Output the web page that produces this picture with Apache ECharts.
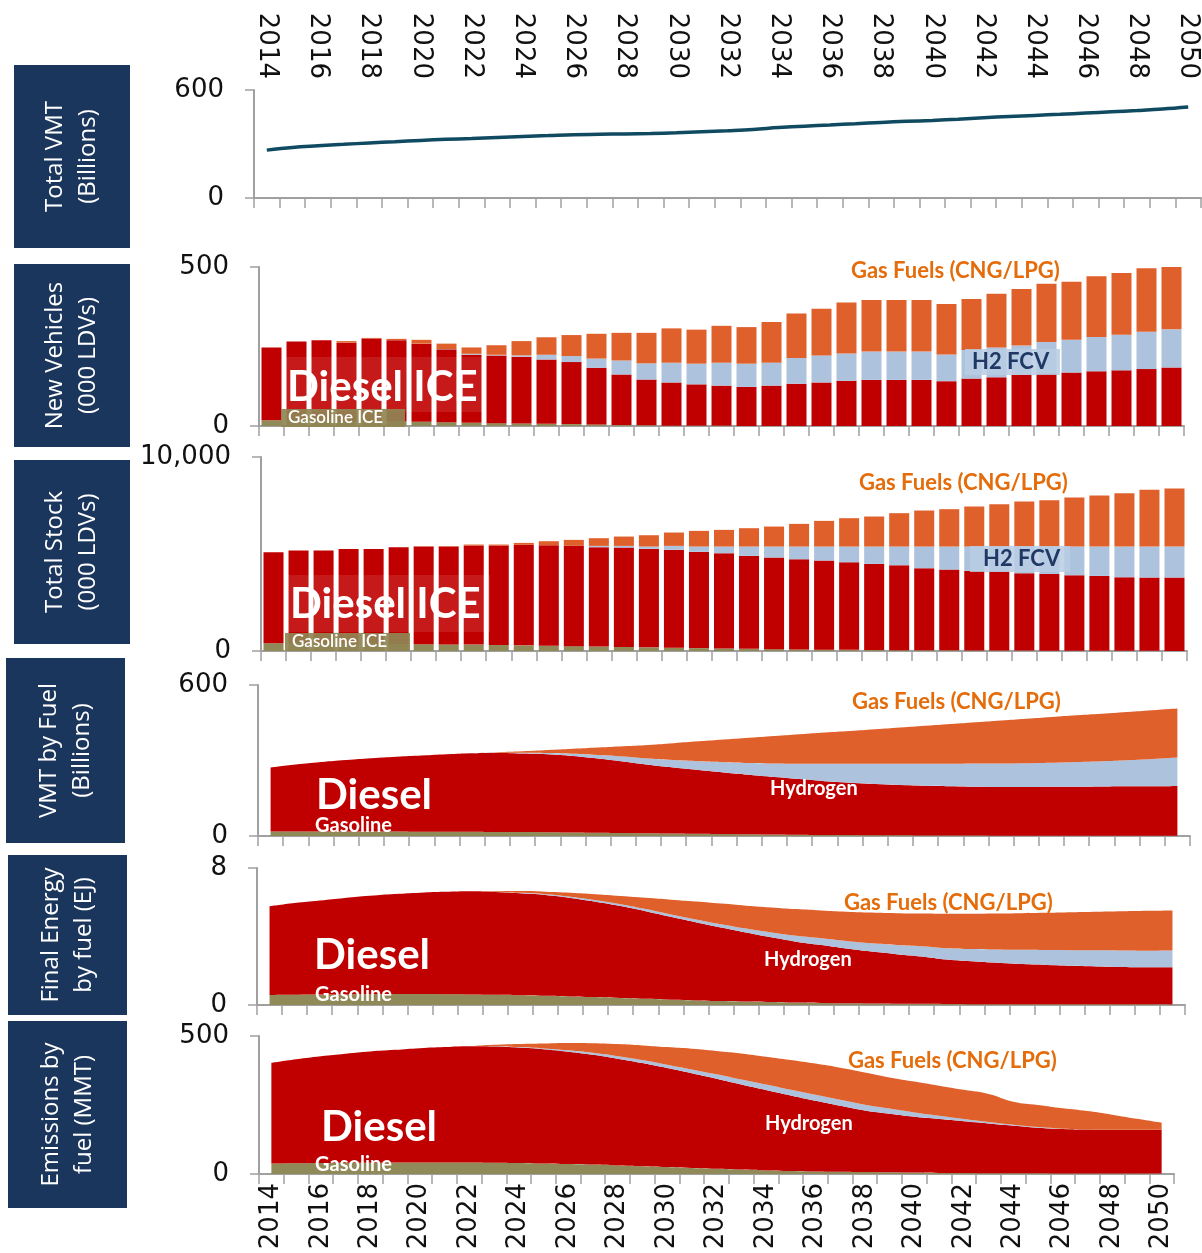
<!DOCTYPE html>
<html><head><meta charset="utf-8">
<script src="https://cdn.jsdelivr.net/npm/echarts@6/dist/echarts.min.js"></script>
<style>html,body{margin:0;padding:0;background:#fff}#c{width:1202px;height:1253px}</style>
</head><body><div id="c"></div>
<script>
const years = ['2014','2015','2016','2017','2018','2019','2020','2021','2022','2023','2024','2025','2026','2027','2028','2029','2030','2031','2032','2033','2034','2035','2036','2037','2038','2039','2040','2041','2042','2043','2044','2045','2046','2047','2048','2049','2050'];

// Panel 1: Total VMT (billions)
const totalVMT = [266,281,290,298,306,313,320,326,330,336,342,347,352,354,356,358,362,368,374,381,391,399,406,413,420,426,431,438,446,453,459,465,472,479,486,494,505];

// Panel 2: New vehicles (000 LDVs)
const nvGasoline = [18,18,17,16,15,14,13,12,10,9,8,7,6,5,3,2,1,1,1,0,0,0,0,0,0,0,0,0,0,0,0,0,0,0,0,0,0];
const nvDiesel   = [229,248,253,246,260,256,246,229,214,213,210,202,195,178,159,144,136,130,126,123,127,133,137,142,145,145,145,141,149,153,162,165,168,172,175,179,184];
const nvHydrogen = [0,0,0,0,0,0,0,1,3,2,4,15,19,29,44,51,62,65,72,73,72,81,85,86,89,89,89,84,90,94,91,99,103,108,112,117,120];
const nvGas      = [0,0,0,5,2,4,12,17,20,30,45,55,66,78,87,96,108,107,116,115,128,140,147,160,162,162,162,159,160,169,178,183,183,191,194,200,200];

// Panel 3: Total stock (000 LDVs)
const stGasoline = [400,400,390,380,370,360,350,340,330,310,290,270,250,230,210,190,170,150,130,110,95,80,70,60,50,45,40,35,30,25,20,18,15,12,10,8,6];
const stDiesel   = [4691,4777,4787,4883,4893,4989,5041,5041,5105,5125,5180,5182,5185,5119,5122,5073,5042,4958,4910,4792,4721,4650,4591,4515,4439,4375,4226,4162,4098,4086,3988,3955,3889,3858,3791,3776,3778];
const stHydrogen = [0,0,0,0,0,0,0,0,0,0,0,0,0,69,86,121,206,276,344,482,568,654,723,809,895,964,1118,1187,1256,1273,1376,1411,1480,1514,1583,1600,1600];
const stGas      = [0,0,0,0,0,0,10,20,52,52,103,207,293,396,482,584,688,808,860,946,1032,1169,1324,1462,1548,1720,1857,1926,2064,2184,2322,2390,2528,2631,2752,2924,2992];

// Panel 4: VMT by fuel (billions)
const vfGasoline = [18,18,18,18,18,18,17,17,17,16,16,15,14,13,12,11,10,9,8,7,6,5,4,4,3,3,2,2,2,1,1,1,1,1,1,1,1];
const vfDiesel   = [254,266,276,284,291,297,303,308,312,314,312,310,304,295,284,272,262,253,244,236,228,221,214,208,204,200,198,196,194,194,194,195,195,196,197,197,198];
const vfHydrogen = [0,0,0,0,0,0,0,0,0,1,3,5,9,14,20,25,30,35,41,47,54,61,69,75,80,84,87,89,92,93,94,95,98,100,103,108,113];
const vfGas      = [0,0,0,0,0,0,0,0,0,2,6,12,20,30,41,54,67,79,90,100,109,117,124,130,137,144,151,158,164,171,177,182,186,189,192,194,195];

// Panel 5: Final energy by fuel (EJ)
const enGasoline = [0.59,0.6,0.61,0.62,0.63,0.64,0.64,0.63,0.62,0.6,0.57,0.54,0.5,0.46,0.41,0.36,0.31,0.27,0.23,0.2,0.17,0.14,0.12,0.1,0.09,0.08,0.07,0.06,0.05,0.04,0.04,0.04,0.04,0.04,0.04,0.04,0.03];
const enDiesel   = [5.17,5.35,5.49,5.63,5.75,5.84,5.92,5.98,6.02,6.0,5.95,5.88,5.75,5.57,5.37,5.12,4.84,4.56,4.29,4.03,3.78,3.56,3.38,3.2,3.03,2.89,2.76,2.59,2.5,2.42,2.35,2.3,2.25,2.21,2.18,2.16,2.17];
const enHydrogen = [0,0,0,0,0,0,0,0,0,0.02,0.03,0.05,0.07,0.09,0.11,0.12,0.14,0.17,0.2,0.23,0.28,0.34,0.4,0.44,0.48,0.54,0.6,0.67,0.72,0.78,0.83,0.87,0.91,0.94,0.96,0.97,0.98];
const enGas      = [0,0,0,0,0,0,0,0,0,0.03,0.1,0.15,0.24,0.35,0.48,0.66,0.86,1.04,1.2,1.34,1.47,1.56,1.62,1.71,1.8,1.85,1.91,2.01,2.06,2.1,2.14,2.17,2.21,2.25,2.29,2.33,2.34];

// Panel 6: Emissions by fuel (MMT)
const emGasoline = [38,39,40,41,41,42,42,42,42,41,40,38,36,34,31,28,25,22,19,16,13,11,9,8,7,6,5,4,4,3,3,3,2,2,2,2,2];
const emDiesel   = [365,377,387,395,403,408,414,418,421,421,418,414,407,398,387,374,359,343,326,308,291,273,256,239,223,212,202,195,187,180,172,165,161,159,158,158,158];
const emHydrogen = [0,0,0,0,0,0,0,0,0,1,2,3,5,7,9,11,12,14,16,18,20,21,22,22,21,19,16,12,8,5,3,2,1,0,0,0,0];
const emGas      = [0,0,0,0,0,0,0,0,0,5,11,18,27,35,44,53,64,75,85,95,101,108,113,116,117,113,112,109,106,102,84,80,74,67,55,40,26];

const yMaxes = [600, 500, 10000, 600, 8, 500];
const panelTitles = [['Total VMT','(Billions)'],['New Vehicles','(000 LDVs)'],['Total Stock','(000 LDVs)'],['VMT by Fuel','(Billions)'],['Final Energy','by fuel (EJ)'],['Emissions by','fuel (MMT)']];

const RED = '#c00000', ORANGE = '#e0602c', BLUE = '#adc2dd', OLIVE = '#8f8a58', NAVY = '#1b365d', GAS_TXT = '#e46c0a';
const AXIS = '#a0a0a0';

const grids = [
  {left:254, top:90,  width:947, height:108},
  {left:259, top:267, width:925, height:159},
  {left:261, top:457, width:926, height:194},
  {left:258, top:685, width:932, height:151},
  {left:257, top:868, width:928, height:137},
  {left:259, top:1036,width:915, height:138}
];

function baseX(gi, extra) {
  return Object.assign({
    type:'category', data: years, gridIndex: gi, boundaryGap: true,
    axisLine:{show:true, lineStyle:{color:AXIS, width:2}},
    axisTick:{show:true, interval:0, length:10, lineStyle:{color:AXIS, width:1.5}},
    axisLabel:{show:false}, splitLine:{show:false}
  }, extra || {});
}
const xAxes = [
  baseX(0),
  baseX(0, {position:'top', axisLine:{show:false}, axisTick:{show:false},
    axisLabel:{show:true, interval:1, rotate:90, margin:11, fontSize:26, fontFamily:'DejaVu Sans', color:'#111'}}),
  baseX(1), baseX(2), baseX(3), baseX(4),
  baseX(5, {axisLabel:{show:true, interval:1, rotate:90, margin:9, fontSize:26, fontFamily:'DejaVu Sans', color:'#111'}})
];
const yAxes = yMaxes.map((m, i) => ({
  type:'value', gridIndex:i, min:0, max:m, interval:m,
  axisLine:{show:true, lineStyle:{color:AXIS, width:2}},
  axisTick:{show:true, length:9, lineStyle:{color:AXIS, width:1.5}},
  splitLine:{show:false},
  axisLabel:{margin:30, fontSize:26, fontFamily:'DejaVu Sans', color:'#111',
    formatter: v => v.toLocaleString('en-US')}
}));

function bars(xi, yi, stack, arrs) {
  const cols = [OLIVE, RED, BLUE, ORANGE];
  const names = ['Gasoline ICE','Diesel ICE','H2 FCV','Gas Fuels (CNG/LPG)'];
  return arrs.map((d, k) => ({
    type:'bar', name:names[k], xAxisIndex:xi, yAxisIndex:yi, stack:stack, data:d,
    barCategoryGap:'20%', itemStyle:{color:cols[k]}, emphasis:{disabled:true}
  }));
}
function areas(xi, yi, stack, arrs) {
  const cols = [OLIVE, RED, BLUE, ORANGE];
  const names = ['Gasoline','Diesel','Hydrogen','Gas Fuels (CNG/LPG)'];
  return arrs.map((d, k) => ({
    type:'line', name:names[k], xAxisIndex:xi, yAxisIndex:yi, stack:stack, data:d,
    smooth:0.5, symbol:'none', lineStyle:{width:0}, areaStyle:{color:cols[k], opacity:1},
    emphasis:{disabled:true}
  }));
}

const series = [
  {type:'line', name:'Total VMT', xAxisIndex:0, yAxisIndex:0, data:totalVMT, smooth:0.4, symbol:'none',
   lineStyle:{color:'#0f4a61', width:3.5}},
  ...bars(2, 1, 'nv', [nvGasoline, nvDiesel, nvHydrogen, nvGas]),
  ...bars(3, 2, 'st', [stGasoline, stDiesel, stHydrogen, stGas]),
  ...areas(4, 3, 'vf', [vfGasoline, vfDiesel, vfHydrogen, vfGas]),
  ...areas(5, 4, 'en', [enGasoline, enDiesel, enHydrogen, enGas]),
  ...areas(6, 5, 'em', [emGasoline, emDiesel, emHydrogen, emGas])
];

// left title boxes
const boxes = [
  {x:14, y:65,  w:116, h:183},
  {x:14, y:264, w:116, h:183},
  {x:14, y:460, w:116, h:184},
  {x:6,  y:658, w:119, h:185},
  {x:8,  y:855, w:119, h:160},
  {x:8,  y:1021,w:119, h:187}
];
const graphics = [];
boxes.forEach((b, i) => {
  graphics.push({type:'rect', shape:{x:b.x, y:b.y, width:b.w, height:b.h}, style:{fill:NAVY}, z:10});
  graphics.push({type:'text', x:b.x + b.w/2, y:b.y + b.h/2, rotation:Math.PI/2, z:11,
    style:{text:panelTitles[i].join('\n'), fill:'#fff', font:'24px "Open Sans"', align:'center', verticalAlign:'middle', lineHeight:33}});
});
function T(x, y, text, size, color, weight) {
  graphics.push({type:'text', x:x, y:y, z:12,
    style:{text:text, fill:color, font:(weight||'bold') + ' ' + size + 'px Lato', align:'left', verticalAlign:'middle'}});
}
function R(x, y, w, h, fill) {
  graphics.push({type:'rect', shape:{x:x, y:y, width:w, height:h}, style:{fill:fill}, z:11});
}
// panel 2
R(283, 357, 200, 55, 'rgba(255,255,255,0.1)');
T(287, 387, 'Diesel ICE', 42, '#fff');
R(281, 409, 124, 18, 'rgba(143,134,84,0.92)');
T(288, 418, 'Gasoline ICE', 17, '#fff', '600');
T(851, 271, 'Gas Fuels (CNG/LPG)', 22, GAS_TXT);
R(965, 349, 95, 26, 'rgba(184,204,228,0.85)');
T(972, 362, 'H2 FCV', 22, '#1f3864');
// panel 3
R(285, 575, 205, 57, 'rgba(255,255,255,0.1)');
T(290, 604, 'Diesel ICE', 42, '#fff');
R(285, 633, 125, 18, 'rgba(143,134,84,0.92)');
T(292, 642, 'Gasoline ICE', 17, '#fff', '600');
T(859, 483, 'Gas Fuels (CNG/LPG)', 22, GAS_TXT);
R(970, 546, 100, 26, 'rgba(184,204,228,0.85)');
T(983, 559, 'H2 FCV', 22, '#1f3864');
// panel 4
T(852, 702, 'Gas Fuels (CNG/LPG)', 22, GAS_TXT);
T(316, 795, 'Diesel', 42, '#fff');
T(315, 826, 'Gasoline', 20, '#fff');
T(770, 789, 'Hydrogen', 20, '#fff');
// panel 5
T(844, 903, 'Gas Fuels (CNG/LPG)', 22, GAS_TXT);
T(314, 955, 'Diesel', 42, '#fff');
T(315, 995, 'Gasoline', 20, '#fff');
T(764, 960, 'Hydrogen', 20, '#fff');
// panel 6
T(848, 1061, 'Gas Fuels (CNG/LPG)', 22, GAS_TXT);
T(321, 1127, 'Diesel', 42, '#fff');
T(315, 1165, 'Gasoline', 20, '#fff');
T(765, 1124, 'Hydrogen', 20, '#fff');

const chart = echarts.init(document.getElementById('c'), null, {renderer:'canvas'});
chart.setOption({
  animation:false, backgroundColor:'#fff',
  grid: grids, xAxis: xAxes, yAxis: yAxes, series: series, graphic: graphics
});
</script></body></html>
